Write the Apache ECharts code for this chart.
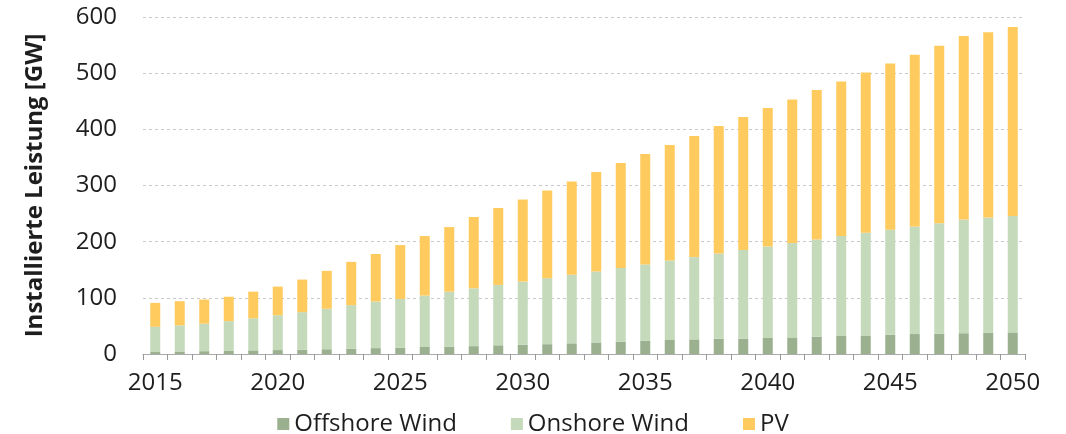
<!DOCTYPE html>
<html>
<head>
<meta charset="utf-8">
<script src="https://cdn.jsdelivr.net/npm/echarts@6/dist/echarts.min.js"></script>
<style>html,body{margin:0;padding:0;background:#fff;}#c{width:1066px;height:434px;}</style>
</head>
<body>
<div id="c"></div>
<script>
var years = [];
for (var y = 2015; y <= 2050; y++) years.push(String(y));
var offshore = [3.5,4.5,5,5.5,6.5,7,7.5,8.5,9.5,10.5,11,12.5,13,14,15.5,16.5,17.5,19,20.5,22,23.5,25,26,27,27.5,28.5,29.5,31,32,33,34.5,35.5,36,37,38,38.5];
var onshore = [45,46.5,49,53,57,62,67,72,77.5,83,87,91.5,98,103,107.5,112.5,117.5,122,126.5,131,136,141.5,146.5,152,157.5,163,168,173,178,183,186.5,191.5,197,202.5,205,207];
var pv = [42.5,43,43,43.5,47.5,51,58,67.5,77,84.5,96,106,115,127,137,146,156,166,177,187,196.5,205.5,215.5,227,237,246.5,255.5,266,275,285,296,306,316,326.5,330,336.5];
var yTicks = [0,100,200,300,400,500,600];

var FONT = 'Open Sans';
var TXT = '#1e1e1e';
var chart = echarts.init(document.getElementById('c'));
chart.setOption({
  animation: false,
  textStyle: {fontFamily: FONT},
  grid: {left: 143, right: 41, top: 17, bottom: 80, containLabel: false},
  legend: {
    top: 407, left: 'center', itemWidth: 12, itemHeight: 12, itemGap: 54,
    icon: 'rect',
    textStyle: {fontFamily: FONT, fontSize: 24, color: TXT},
    data: ['Offshore Wind', 'Onshore Wind', 'PV']
  },
  xAxis: {
    type: 'category', data: years,
    axisLine: {lineStyle: {color: '#aaa', width: 1}},
    axisTick: {show: true, interval: 0, length: 6, lineStyle: {color: '#999'}},
    axisLabel: {interval: 4, fontFamily: FONT, fontSize: 24, color: TXT, margin: 17}
  },
  yAxis: {
    type: 'value', min: yTicks[0], max: yTicks[yTicks.length - 1], interval: 100,
    name: 'Installierte Leistung [GW]', nameLocation: 'middle', nameGap: 96,
    nameTextStyle: {fontFamily: FONT, fontSize: 24, fontWeight: 'bold', color: TXT},
    axisLine: {show: false}, axisTick: {show: false},
    axisLabel: {fontFamily: FONT, fontSize: 24, color: TXT, margin: 26},
    splitLine: {lineStyle: {color: '#c8c8c8', type: [3, 3], width: 1}}
  },
  series: [
    {name: 'Offshore Wind', type: 'bar', stack: 't', data: offshore, barWidth: 10, itemStyle: {color: '#9bb08f'}},
    {name: 'Onshore Wind', type: 'bar', stack: 't', data: onshore, barWidth: 10, itemStyle: {color: '#c5d9bb'}},
    {name: 'PV', type: 'bar', stack: 't', data: pv, barWidth: 10, itemStyle: {color: '#ffcb5f'}}
  ]
});
</script>
</body>
</html>
